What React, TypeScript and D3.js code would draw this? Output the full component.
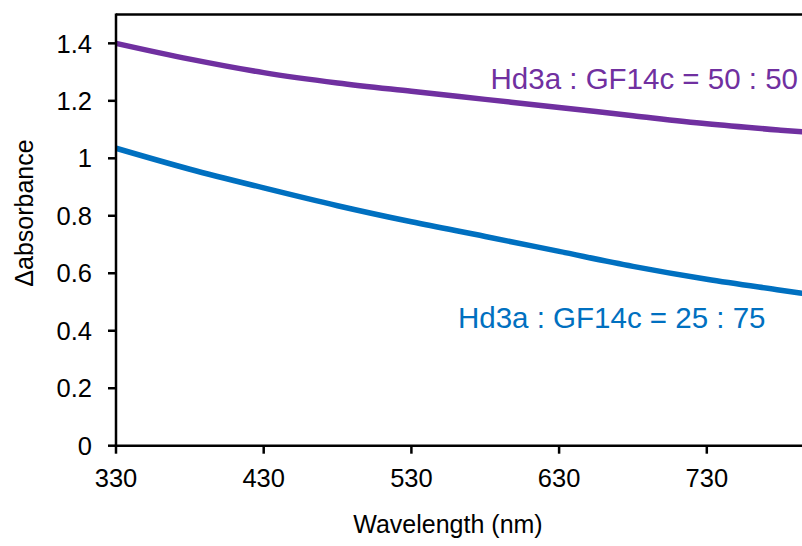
import React from "react";
import * as d3 from "d3";

const wavelengths = [330, 380, 430, 480, 530, 580, 630, 680, 730, 780, 800];
const series5050 = [1.4, 1.345, 1.298, 1.262, 1.233, 1.205, 1.177, 1.148, 1.12, 1.098, 1.09];
const series2575 = [1.035, 0.962, 0.897, 0.835, 0.779, 0.728, 0.676, 0.624, 0.579, 0.541, 0.526];
const xTicks = [330, 430, 530, 630, 730];
const yTicks = [0, 0.2, 0.4, 0.6, 0.8, 1, 1.2, 1.4];
const seriesLabels = ["Hd3a : GF14c = 50 : 50", "Hd3a : GF14c = 25 : 75"];
const colors = ["#7030A0", "#0070C0"];

const W = 802;
const H = 546;
const left = 116;
const bottom = 445.7;
const top = 14.6;
const font = "'Liberation Sans', Arial, Helvetica, sans-serif";

export default function App() {
  const x = d3.scaleLinear().domain([330, 800]).range([left, left + 470 * 1.477]);
  const y = d3.scaleLinear().domain([0, 1.5]).range([bottom, top]);
  const line = d3
    .line<number>()
    .x((_, i) => x(wavelengths[i]))
    .y((d) => y(d))
    .curve(d3.curveMonotoneX);
  const right = x(800);

  return (
    <svg
      width={W}
      height={H}
      style={{ position: "absolute", left: 0, top: 0, background: "#fff" }}
      fontFamily={font}
    >
      <rect x={0} y={0} width={W} height={H} fill="#fff" />
      {/* frame */}
      <line x1={left} x2={right} y1={top} y2={top} stroke="#000" strokeWidth={2.5} />
      <line x1={right} x2={right} y1={top} y2={bottom} stroke="#000" strokeWidth={2.5} />
      {/* series */}
      <path d={line(series5050) || ""} fill="none" stroke={colors[0]} strokeWidth={5.5} />
      <path d={line(series2575) || ""} fill="none" stroke={colors[1]} strokeWidth={5.5} />
      {/* axes */}
      <line x1={left} x2={left} y1={top - 1.2} y2={bottom + 1.2} stroke="#000" strokeWidth={2.5} />
      <line x1={left - 1.2} x2={right} y1={bottom} y2={bottom} stroke="#000" strokeWidth={2.5} />
      {yTicks.map((t) => (
        <g key={"y" + t}>
          <line x1={left - 8} x2={left} y1={y(t)} y2={y(t)} stroke="#000" strokeWidth={2.5} />
          <text x={92} y={y(t)} dy="0.36em" textAnchor="end" fontSize={25.5} fill="#000">
            {String(t)}
          </text>
        </g>
      ))}
      {xTicks.map((t) => (
        <g key={"x" + t}>
          <line x1={x(t)} x2={x(t)} y1={bottom} y2={bottom + 8} stroke="#000" strokeWidth={2.5} />
          <text x={x(t)} y={486.5} textAnchor="middle" fontSize={25.5} fill="#000">
            {String(t)}
          </text>
        </g>
      ))}
      <text x={448} y={533} textAnchor="middle" fontSize={25} fill="#000">
        Wavelength (nm)
      </text>
      <text
        transform={`translate(33, 213) rotate(-90)`}
        textAnchor="middle"
        fontSize={25}
        fill="#000"
      >
        Δabsorbance
      </text>
      <text x={798} y={89} textAnchor="end" fontSize={29.5} fill={colors[0]}>
        {seriesLabels[0]}
      </text>
      <text x={458} y={327.7} textAnchor="start" fontSize={29.5} fill={colors[1]}>
        {seriesLabels[1]}
      </text>
    </svg>
  );
}
